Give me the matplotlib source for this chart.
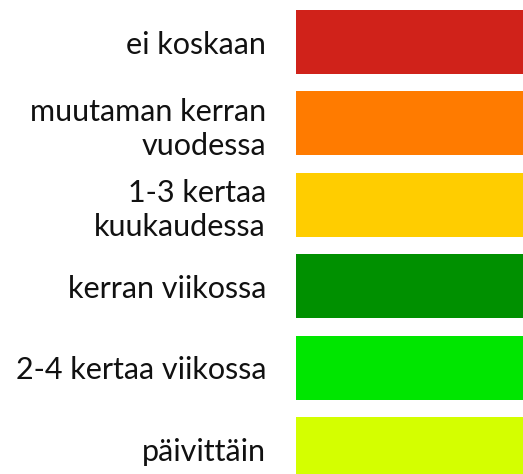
import matplotlib
matplotlib.use("Agg")
import matplotlib.pyplot as plt

labels = ["ei koskaan", "muutaman kerran\nvuodessa", "1-3 kertaa\nkuukaudessa",
          "kerran viikossa", "2-4 kertaa viikossa", "päivittäin"]
colors = ["#D0221A", "#FF7B00", "#FFCD00", "#009000", "#00E600", "#D4FF00"]
values = [1, 1, 1, 1, 1, 1]

W, H = 523, 474
DPI = 100
fig = plt.figure(figsize=(W / DPI, H / DPI), dpi=DPI)
fig.patch.set_facecolor("white")

# axes covers bar area: left edge at 296px, full height
ax = fig.add_axes([296 / W, 0, 1 - 296 / W, 1])

step = 81.4  # px between rows
first_center = 42
bar_h = 64 / step
pos = list(range(len(labels)))
ax.barh(pos, values, height=bar_h, color=colors, edgecolor="none")

ax.set_xlim(0, 1)
ax.set_ylim((H - first_center) / step, -first_center / step)

ax.set_yticks(pos)
ax.set_yticklabels(labels, fontsize=22, family="Lato", color="#111111")
for t in ax.get_yticklabels():
    t.set_multialignment("right")
    t.set_linespacing(1.25)
ax.tick_params(axis="y", length=0, pad=30 * 72 / DPI)
ax.set_xticks([])
for s in ax.spines.values():
    s.set_visible(False)

fig.savefig("out.png", dpi=DPI, facecolor="white")
